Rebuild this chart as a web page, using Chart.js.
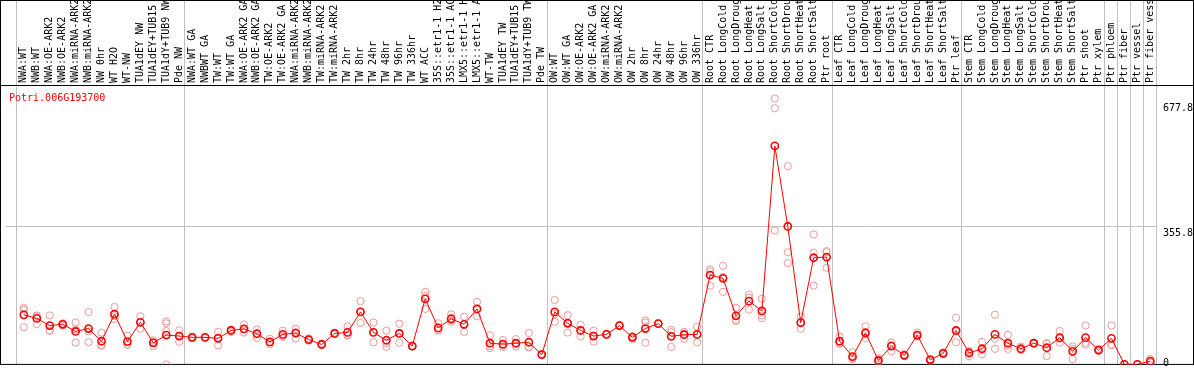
<!DOCTYPE html>
<html>
<head>
<meta charset="utf-8">
<title>Potri.006G193700</title>
<script src="https://cdn.jsdelivr.net/npm/chart.js@4/dist/chart.umd.min.js"></script>
<style>
  html, body { margin: 0; padding: 0; background: #fff; }
</style>
</head>
<body>
<canvas id="myChart" width="1194" height="370"></canvas>
<script>
const geneId = "Potri.006G193700";

const samples = [
  "NWA:WT", "NWB:WT", "NWA:OE-ARK2", "NWB:OE-ARK2", "NWA:miRNA-ARK2", "NWB:miRNA-ARK2",
  "NW 0hr", "WT H2O", "WT-NW", "TUA1dEY NW", "TUA1dEY+TUB15 NW", "TUA1dY+TUB9 NW", "Pde NW",
  "NWA:WT GA", "NWBWT GA", "TW:WT", "TW:WT GA", "NWA:OE-ARK2 GA", "NWB:OE-ARK2 GA",
  "TW:OE-ARK2", "TW:OE-ARK2 GA", "NWA:miRNA-ARK2 GA", "NWB:miRNA-ARK2 GA", "TW:miRNA-ARK2",
  "TW:miRNA-ARK2 GA", "TW 2hr", "TW 8hr", "TW 24hr", "TW 48hr", "TW 96hr", "TW 336hr", "WT ACC",
  "35S::etr1-1 H2O", "35S::etr1-1 ACC", "LMX5::etr1-1 H2O", "LMX5::etr1-1 ACC", "WT-TW",
  "TUA1dEY TW", "TUA1dEY+TUB15 TW", "TUA1dY+TUB9 TW", "Pde TW",
  "OW:WT", "OW:WT GA", "OW:OE-ARK2", "OW:OE-ARK2 GA", "OW:miRNA-ARK2", "OW:miRNA-ARK2 GA",
  "OW 2hr", "OW 8hr", "OW 24hr", "OW 48hr", "OW 96hr", "OW 336hr",
  "Root CTR", "Root LongCold", "Root LongDrought", "Root LongHeat", "Root LongSalt",
  "Root ShortCold", "Root ShortDrought", "Root ShortHeat", "Root ShortSalt", "Ptr root",
  "Leaf CTR", "Leaf LongCold", "Leaf LongDrought", "Leaf LongHeat", "Leaf LongSalt",
  "Leaf ShortCold", "Leaf ShortDrought", "Leaf ShortHeat", "Leaf ShortSalt", "Ptr leaf",
  "Stem CTR", "Stem LongCold", "Stem LongDrought", "Stem LongHeat", "Stem LongSalt",
  "Stem ShortCold", "Stem ShortDrought", "Stem ShortHeat", "Stem ShortSalt", "Ptr shoot",
  "Ptr xylem", "Ptr phloem", "Ptr fiber", "Ptr vessel", "Ptr fiber vessel"
];

// first sample index of each group (last entry = end)
const groupStarts = [0, 13, 41, 53, 63, 73, 84, 85, 86, 87, 88];

const means = [
  127.7, 118.5, 100.0, 103.4, 84.9, 92.4, 59.7, 129.4, 58.8, 108.4,
  55.5, 75.6, 73.1, 69.7, 69.7, 67.2, 87.4, 91.6, 79.0, 58.0,
  77.3, 80.7, 63.9, 51.3, 79.8, 82.4, 135.3, 82.4, 62.2, 79.8,
  47.1, 168.9, 94.1, 117.6, 103.4, 142.9, 54.6, 52.1, 54.6, 57.1,
  25.2, 135.3, 105.9, 87.4, 73.1, 77.3, 100.0, 69.7, 92.4, 105.0,
  72.3, 76.5, 77.3, 230.3, 221.8, 125.2, 163.0, 137.8, 563.0, 355.5,
  107.6, 274.8, 276.5, 59.7, 20.2, 81.5, 10.1, 47.1, 23.5, 75.6,
  11.8, 28.6, 87.4, 29.4, 40.3, 77.3, 54.6, 40.3, 54.6, 42.9,
  68.9, 33.6, 68.9, 37.0, 67.2, 0, 0, 8.4
];

const rep1 = [
  146, 125, 126, 106, 108, 135, 82, 148, 74, 124,
  62, 111, 88, 71, 70, 84, 90, 103, 90, 66,
  87, 92, 67, 54, 82, 98, 163, 108, 87, 105,
  48, 187, 106, 129, 123, 161, 75, 63, 65, 81,
  27, 166, 127, 102, 87, 79, 101, 73, 113, 106,
  89, 84, 97, 245, 254, 146, 180, 169, 685, 511,
  123, 335, 292, 72, 31, 98, 16, 57, 26, 82,
  14, 31, 120, 35, 58, 128, 76, 46, 56, 55,
  86, 46, 100, 40, 100, 0, 0, 14
];
const rep2 = [
  141, 126, 87, 104, 90, 85, 50, 124, 51, 109,
  57, 106, 73, 70, 70, 69, 88, 90, 79, 56,
  74, 83, 63, 51, 80, 76, 136, 83, 55, 79,
  47, 177, 89, 114, 103, 143, 47, 49, 53, 46,
  25, 130, 108, 88, 74, 77, 100, 71, 108, 105,
  83, 79, 78, 240, 225, 115, 172, 126, 660, 289,
  108, 288, 289, 54, 15, 78, 8, 50, 24, 73,
  12, 29, 85, 32, 37, 66, 48, 38, 55, 53,
  66, 40, 56, 37, 51, 0, 0, 6
];
const rep3 = [
  96, 104, 87, 100, 56, 57, 48, 117, 51, 92,
  47, 86, 58, 67, 69, 49, 84, 82, 68, 52,
  71, 67, 61, 50, 78, 74, 107, 57, 45, 56,
  46, 143, 87, 110, 84, 124, 42, 45, 46, 44,
  24, 110, 82, 72, 59, 76, 99, 65, 56, 104,
  45, 66, 57, 203, 187, 112, 141, 119, 345, 261,
  92, 203, 249, 53, 14, 68, 7, 34, 21, 72,
  9, 26, 57, 21, 26, 40, 40, 37, 53, 21,
  56, 14, 51, 35, 50, 0, 0, 5
];
// fourth replicate only where one exists
const rep4 = samples.map(() => null);
rep4[11] = 0;

const yTicks = [0, 355.8, 677.8];

const FONT = "'DejaVu Sans Mono', 'Liberation Mono', monospace";

function toPoints(arr) {
  return arr.map((v, i) => (v === null ? null : { x: i, y: v })).filter(p => p !== null);
}

const repStyle = {
  showLine: false,
  pointRadius: 3.6,
  pointBorderWidth: 1,
  pointBorderColor: '#f09a9a',
  pointBackgroundColor: 'rgba(0,0,0,0)'
};

const frame = {
  id: 'frame',
  beforeDraw(chart) {
    const ctx = chart.ctx;
    ctx.save();
    ctx.fillStyle = '#fff';
    ctx.fillRect(0, 0, chart.width, chart.height);
    ctx.restore();
  },
  beforeDatasetsDraw(chart) {
    const { ctx, chartArea } = chart;
    const x = chart.scales.x;
    ctx.save();
    ctx.lineWidth = 1;
    ctx.strokeStyle = '#c0c0c0';
    groupStarts.forEach(g => {
      const px = Math.round(x.getPixelForValue(g - 0.6)) + 0.5;
      ctx.beginPath();
      ctx.moveTo(px, 0);
      ctx.lineTo(px, chartArea.bottom);
      ctx.stroke();
    });
    ctx.strokeStyle = '#000';
    ctx.strokeRect(0.5, 0.5, chart.width - 1, chartArea.bottom - 0.5);
    ctx.beginPath();
    ctx.moveTo(0, Math.round(chartArea.top) + 0.5);
    ctx.lineTo(chart.width, Math.round(chartArea.top) + 0.5);
    ctx.stroke();
    ctx.fillStyle = '#ff0000';
    ctx.font = '10px ' + FONT;
    ctx.textBaseline = 'alphabetic';
    ctx.fillText(geneId, 9, 101);
    ctx.restore();
  }
};

new Chart(document.getElementById('myChart'), {
  type: 'scatter',
  data: {
    datasets: [
      {
        label: geneId,
        data: toPoints(means),
        showLine: true,
        borderColor: '#ff0000',
        borderWidth: 1,
        pointRadius: 3.6,
        pointBorderWidth: 1.6,
        pointBorderColor: '#ff0000',
        pointBackgroundColor: 'rgba(0,0,0,0)'
      },
      Object.assign({ label: 'rep1', data: toPoints(rep1) }, repStyle),
      Object.assign({ label: 'rep2', data: toPoints(rep2) }, repStyle),
      Object.assign({ label: 'rep3', data: toPoints(rep3) }, repStyle),
      Object.assign({ label: 'rep4', data: toPoints(rep4) }, repStyle)
    ]
  },
  options: {
    responsive: false,
    animation: false,
    devicePixelRatio: 1,
    layout: { padding: { left: 1, right: 0, top: 0, bottom: 1.5 } },
    plugins: {
      legend: { display: false },
      tooltip: { enabled: false }
    },
    scales: {
      x: {
        type: 'linear',
        position: 'top',
        min: -1.408,
        max: 87.438,
        bounds: 'data',
        grid: { display: false, drawTicks: false },
        border: { display: false },
        afterBuildTicks: s => { s.ticks = samples.map((_, i) => ({ value: i })); },
        afterFit: s => { s.height = 85; s.paddingLeft = 0; s.paddingRight = 0; },
        ticks: {
          autoSkip: false,
          minRotation: 90,
          maxRotation: 90,
          padding: 2,
          labelOffset: 12,
          color: '#000',
          font: { family: FONT, size: 10 },
          callback: v => samples[v]
        }
      },
      y: {
        type: 'linear',
        position: 'right',
        min: 0,
        max: 720,
        grid: {
          drawTicks: false,
          color: c => (c.tick && c.tick.value === 355.8 ? '#c0c0c0' : 'rgba(0,0,0,0)')
        },
        border: { display: false },
        afterBuildTicks: s => { s.ticks = yTicks.map(v => ({ value: v })); },
        afterFit: s => { s.width = 38; s.paddingTop = 0; s.paddingBottom = 0; },
        ticks: {
          padding: 7,
          color: '#000',
          font: c => ({
            family: FONT,
            size: 10,
            lineHeight: c.tick && c.tick.value === 0 ? 0.1 : 1.5
          }),
          callback: v => (v === 0 ? ['0', ''] : ['', String(v)])
        }
      }
    }
  },
  plugins: [frame]
});
</script>
</body>
</html>
